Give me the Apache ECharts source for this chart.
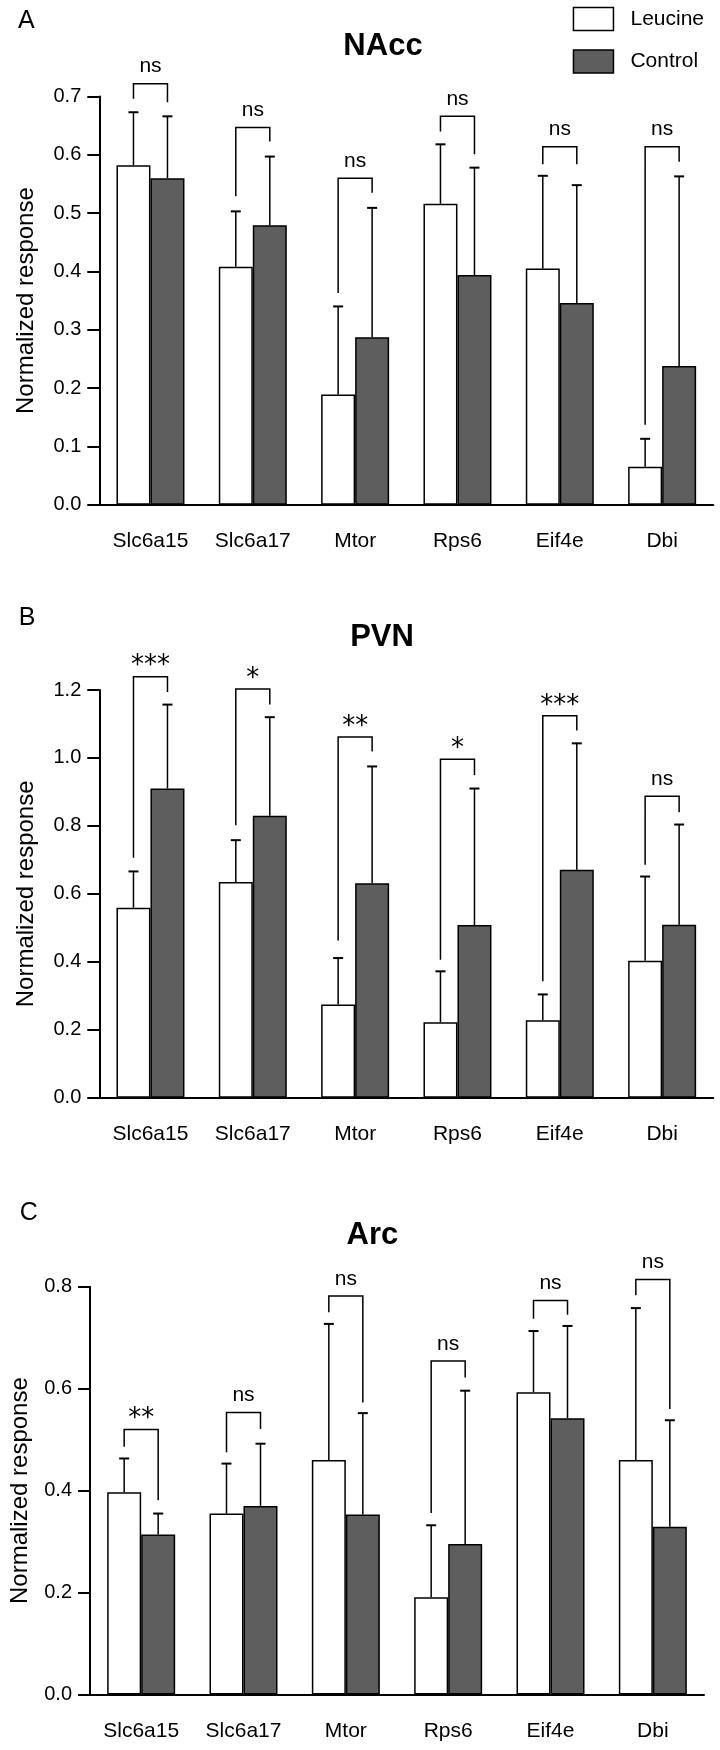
<!DOCTYPE html>
<html>
<head>
<meta charset="utf-8">
<script src="https://cdn.jsdelivr.net/npm/echarts@6/dist/echarts.min.js"></script>
<style>
html,body{margin:0;padding:0;background:#fff;}
#chart{width:720px;height:1750px;}
</style>
</head>
<body>
<div id="chart"></div>
<script>
// ---------- data ----------
const categories = ['Slc6a15', 'Slc6a17', 'Mtor', 'Rps6', 'Eif4e', 'Dbi'];
const seriesNames = ['Leucine', 'Control'];

// Panel A: NAcc
const leucineMeanA = [0.582, 0.408, 0.189, 0.516, 0.405, 0.065];
const leucineErrA  = [0.091, 0.095, 0.151, 0.102, 0.159, 0.048];
const controlMeanA = [0.560, 0.479, 0.287, 0.394, 0.346, 0.238];
const controlErrA  = [0.106, 0.118, 0.222, 0.184, 0.202, 0.325];
const bracketTopA      = [0.722, 0.647, 0.560, 0.666, 0.614, 0.614];
const bracketLeftEndA  = [0.696, 0.529, 0.363, 0.640, 0.584, 0.137];
const bracketRightEndA = [0.690, 0.623, 0.535, 0.601, 0.584, 0.588];
const sigA = ['ns', 'ns', 'ns', 'ns', 'ns', 'ns'];

// Panel B: PVN
const leucineMeanB = [0.559, 0.635, 0.274, 0.222, 0.228, 0.403];
const leucineErrB  = [0.107, 0.123, 0.137, 0.150, 0.076, 0.248];
const controlMeanB = [0.910, 0.830, 0.631, 0.508, 0.671, 0.509];
const controlErrB  = [0.247, 0.290, 0.344, 0.402, 0.372, 0.295];
const bracketTopB      = [1.239, 1.203, 1.062, 0.996, 1.124, 0.887];
const bracketLeftEndB  = [0.706, 0.802, 0.463, 0.406, 0.343, 0.686];
const bracketRightEndB = [1.194, 1.157, 1.019, 0.949, 1.081, 0.840];
const sigB = ['***', '*', '**', '*', '***', 'ns'];

// Panel C: Arc
const leucineMeanC = [0.397, 0.355, 0.460, 0.191, 0.593, 0.460];
const leucineErrC  = [0.066, 0.098, 0.267, 0.141, 0.120, 0.298];
const controlMeanC = [0.314, 0.370, 0.353, 0.295, 0.542, 0.329];
const controlErrC  = [0.041, 0.122, 0.199, 0.301, 0.181, 0.209];
const bracketTopC      = [0.520, 0.553, 0.782, 0.654, 0.773, 0.814];
const bracketLeftEndC  = [0.486, 0.475, 0.750, 0.356, 0.737, 0.783];
const bracketRightEndC = [0.381, 0.521, 0.573, 0.622, 0.745, 0.560];
const sigC = ['**', 'ns', 'ns', 'ns', 'ns', 'ns'];

// y-axis ranges / tick steps
const yMaxA = 0.7, yStepA = 0.1;
const yMaxB = 1.2, yStepB = 0.2;
const yMaxC = 0.8, yStepC = 0.2;

const panelLetters = ['A', 'B', 'C'];
const panelTitles = ['NAcc', 'PVN', 'Arc'];
const yAxisTitle = 'Normalized response';

// ---------- layout / style ----------
const FONT = 'Arial, "Liberation Sans", Helvetica, sans-serif';
const BAR_W = 34;
const CONTROL_COLOR = '#5e5e5e';

const panels = [
  { grid: {left: 99.3, right: 6.7, top: 96.5, bottom: 1245.3}, nameGap: 61,
    yMax: yMaxA, yStep: yStepA,
    leuM: leucineMeanA, leuE: leucineErrA, ctlM: controlMeanA, ctlE: controlErrA,
    bTop: bracketTopA, bL: bracketLeftEndA, bR: bracketRightEndA, sig: sigA,
    letterPos: [26.4, 21.4], titlePos: [383, 46.4] },
  { grid: {left: 99.3, right: 6.7, top: 690, bottom: 652.3}, nameGap: 61,
    yMax: yMaxB, yStep: yStepB,
    leuM: leucineMeanB, leuE: leucineErrB, ctlM: controlMeanB, ctlE: controlErrB,
    bTop: bracketTopB, bL: bracketLeftEndB, bR: bracketRightEndB, sig: sigB,
    letterPos: [27, 618], titlePos: [382, 637.7] },
  { grid: {left: 89.3, right: 16, top: 1286.7, bottom: 55.5}, nameGap: 58,
    yMax: yMaxC, yStep: yStepC,
    leuM: leucineMeanC, leuE: leucineErrC, ctlM: controlMeanC, ctlE: controlErrC,
    bTop: bracketTopC, bL: bracketLeftEndC, bR: bracketRightEndC, sig: sigC,
    letterPos: [28.7, 1213], titlePos: [372.4, 1235.3] }
];

const grids = [], xAxes = [], yAxes = [], series = [], graphics = [];

panels.forEach((p, pi) => {
  grids.push(Object.assign({containLabel: false}, p.grid));
  xAxes.push({
    type: 'category', gridIndex: pi, data: categories, boundaryGap: true,
    axisLine: {show: true, lineStyle: {color: '#000', width: 2}},
    axisTick: {show: false},
    axisLabel: {color: '#000', fontSize: 21, fontFamily: FONT, margin: 26, interval: 0},
    splitLine: {show: false}
  });
  yAxes.push({
    type: 'value', gridIndex: pi, min: 0, max: p.yMax, interval: p.yStep,
    axisLine: {show: true, lineStyle: {color: '#000', width: 2}},
    axisTick: {show: true, length: 12, lineStyle: {color: '#000', width: 2}},
    axisLabel: {color: '#000', fontSize: 20, fontFamily: FONT, margin: 18,
                formatter: v => v.toFixed(1)},
    splitLine: {show: false},
    name: yAxisTitle, nameLocation: 'middle', nameGap: p.nameGap, nameRotate: 90,
    nameTextStyle: {color: '#000', fontSize: 24, fontFamily: FONT}
  });

  series.push({
    type: 'bar', name: seriesNames[0], xAxisIndex: pi, yAxisIndex: pi,
    data: p.leuM, barWidth: BAR_W, barGap: '0%', silent: true,
    itemStyle: {color: '#ffffff', borderColor: '#000', borderWidth: 1.5}, z: 2
  });
  series.push({
    type: 'bar', name: seriesNames[1], xAxisIndex: pi, yAxisIndex: pi,
    data: p.ctlM, barWidth: BAR_W, barGap: '0%', silent: true,
    itemStyle: {color: CONTROL_COLOR, borderColor: '#000', borderWidth: 1.5}, z: 2
  });

  // error bars (upper only)
  const errData = [];
  categories.forEach((c, j) => {
    errData.push([j, p.leuM[j], p.leuM[j] + p.leuE[j], -1]);
    errData.push([j, p.ctlM[j], p.ctlM[j] + p.ctlE[j], 1]);
  });
  series.push({
    type: 'custom', xAxisIndex: pi, yAxisIndex: pi, silent: true, clip: false, z: 3,
    data: errData, encode: {x: 0, y: [1, 2]},
    renderItem: (params, api) => {
      const i = api.value(0), side = api.value(3);
      const p0 = api.coord([i, api.value(1)]);
      const p1 = api.coord([i, api.value(2)]);
      const x = p0[0] + side * BAR_W / 2;
      return {type: 'group', children: [
        {type: 'line', shape: {x1: x, y1: p0[1], x2: x, y2: p1[1]},
         style: {stroke: '#000', lineWidth: 1.5}},
        {type: 'line', shape: {x1: x - 5, y1: p1[1], x2: x + 5, y2: p1[1]},
         style: {stroke: '#000', lineWidth: 2}}
      ]};
    }
  });

  // significance brackets
  const brData = categories.map((c, j) => [j, p.bTop[j], p.bL[j], p.bR[j]]);
  const sig = p.sig;
  series.push({
    type: 'custom', xAxisIndex: pi, yAxisIndex: pi, silent: true, clip: false, z: 4,
    data: brData, encode: {x: 0, y: [1, 2, 3]},
    renderItem: (params, api) => {
      const i = api.value(0);
      const top = api.coord([i, api.value(1)]);
      const lb = api.coord([i, api.value(2)]);
      const rb = api.coord([i, api.value(3)]);
      const xl = top[0] - BAR_W / 2, xr = top[0] + BAR_W / 2;
      const label = sig[params.dataIndex];
      const isStar = label.indexOf('*') >= 0;
      return {type: 'group', children: [
        {type: 'polyline', shape: {points: [[xl, lb[1]], [xl, top[1]], [xr, top[1]], [xr, rb[1]]]},
         style: {stroke: '#000', lineWidth: 1.5, fill: null}},
        {type: 'text', style: {
          text: label, x: top[0], y: top[1] - (isStar ? 10 : 17),
          align: 'center', verticalAlign: 'middle',
          fontSize: isStar ? 26 : 21,
          fontFamily: isStar ? '"DejaVu Sans", sans-serif' : FONT,
          fill: '#000'}}
      ]};
    }
  });

  graphics.push({type: 'text', x: p.letterPos[0], y: p.letterPos[1],
    style: {text: panelLetters[pi], fontSize: 25, fontFamily: FONT, fill: '#000',
            align: 'center', verticalAlign: 'middle'}});
  graphics.push({type: 'text', x: p.titlePos[0], y: p.titlePos[1],
    style: {text: panelTitles[pi], fontSize: 31, fontWeight: 'bold', fontFamily: FONT, fill: '#000',
            align: 'center', verticalAlign: 'middle'}});
});

const chart = echarts.init(document.getElementById('chart'), null, {renderer: 'canvas'});
chart.setOption({
  animation: false,
  backgroundColor: '#ffffff',
  textStyle: {fontFamily: FONT},
  legend: {
    data: [
      {name: 'Leucine', itemStyle: {color: '#ffffff', borderColor: '#000', borderWidth: 1.5}},
      {name: 'Control', itemStyle: {color: CONTROL_COLOR, borderColor: '#000', borderWidth: 1.5}}
    ],
    orient: 'vertical', left: 572.7, top: 6.7, padding: 0,
    itemWidth: 40, itemHeight: 23, itemGap: 18, icon: 'rect', selectedMode: false,
    textStyle: {color: '#000', fontSize: 21, fontFamily: FONT, padding: [0, 0, 0, 12]}
  },
  grid: grids,
  xAxis: xAxes,
  yAxis: yAxes,
  series: series,
  graphic: graphics
});
</script>
</body>
</html>
